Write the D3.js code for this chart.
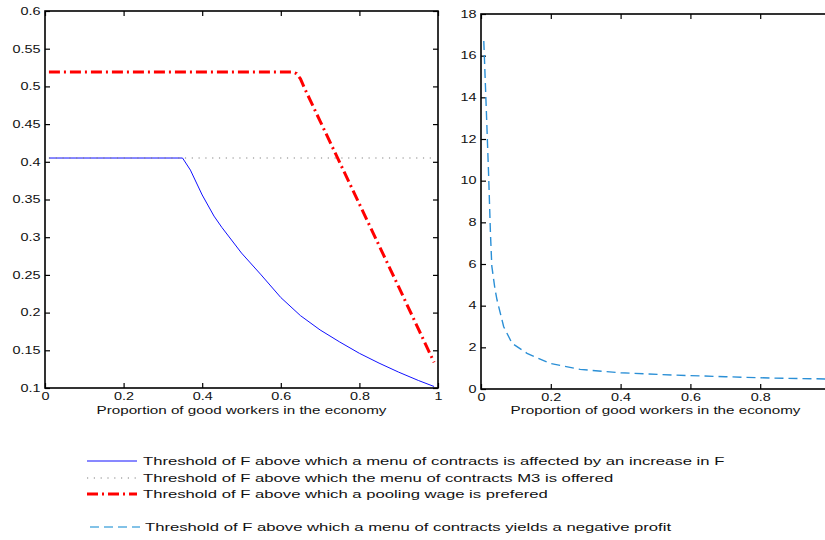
<!DOCTYPE html>
<html>
<head>
<meta charset="utf-8">
<script src="https://cdn.jsdelivr.net/npm/d3@7"></script>
<style>
  html, body { margin: 0; padding: 0; background: #fff; }
  svg { display: block; }
  text { font-family: "Liberation Sans", Arial, Helvetica, sans-serif; fill: #111; }
</style>
</head>
<body>
<svg id="chart" width="825" height="540"></svg>
<script>
// ---------------- DATA ----------------
const xTickValues = [0, 0.2, 0.4, 0.6, 0.8, 1];
const xTickLabels = ["0", "0.2", "0.4", "0.6", "0.8", "1"];
const leftYTicks = [0.1, 0.15, 0.2, 0.25, 0.3, 0.35, 0.4, 0.45, 0.5, 0.55, 0.6];
const leftYLabels = ["0.1", "0.15", "0.2", "0.25", "0.3", "0.35", "0.4", "0.45", "0.5", "0.55", "0.6"];
const rightYTicks = [0, 2, 4, 6, 8, 10, 12, 14, 16, 18];
const rightYLabels = ["0", "2", "4", "6", "8", "10", "12", "14", "16", "18"];

// Series 1: menu of contracts affected by an increase in F (blue solid)
const affectedX = [0.01, 0.35, 0.37, 0.40, 0.43, 0.45, 0.50, 0.55, 0.60, 0.65, 0.70, 0.75, 0.80, 0.85, 0.90, 0.95, 0.99];
const affectedY = [0.405, 0.405, 0.389, 0.356, 0.328, 0.313, 0.279, 0.250, 0.220, 0.196, 0.177, 0.161, 0.146, 0.133, 0.121, 0.110, 0.102];

// Series 2: menu of contracts M3 is offered (grey dotted)
const m3X = [0.01, 0.99];
const m3Y = [0.405, 0.405];

// Series 3: pooling wage preferred (red dash-dot)
const poolingX = [0.01, 0.63, 0.64, 0.65, 0.66, 0.70, 0.80, 0.90, 0.99];
const poolingY = [0.519, 0.519, 0.517, 0.510, 0.498, 0.454, 0.344, 0.234, 0.134];

// Series 4: menu of contracts yields a negative profit (light blue dashed)
const negProfitX = [0.008, 0.015, 0.022, 0.027, 0.031, 0.040, 0.046, 0.065, 0.089, 0.132, 0.198, 0.284, 0.40, 0.55, 0.70, 0.84, 1.0];
const negProfitY = [16.7, 13.5, 10.2, 7.5, 5.9, 4.8, 4.27, 2.99, 2.19, 1.71, 1.23, 0.94, 0.78, 0.67, 0.59, 0.52, 0.48];

const xAxisTitle = "Proportion of good workers in the economy";
const legendLabels = [
  "Threshold of F above which a menu of contracts is affected by an increase in F",
  "Threshold of F above which the menu of contracts M3 is offered",
  "Threshold of F above which a pooling wage is prefered",
  "Threshold of F above which a menu of contracts yields a negative profit"
];

// ---------------- LAYOUT ----------------
const SX_TICK = 1.4;     // horizontal stretch of the original bitmap text
const SX_TEXT = 1.45;
const TICK_FS = 10.3;
const svg = d3.select("#chart");

const L = { x0: 45, x1: 438, y0: 11, y1: 388 };
const R = { x0: 481, x1: 830, y0: 14, y1: 389 };

const xL = d3.scaleLinear().domain([0, 1]).range([L.x0, L.x1]);
const yL = d3.scaleLinear().domain([0.1, 0.6]).range([L.y1, L.y0]);
const xR = d3.scaleLinear().domain([0, 1]).range([R.x0, R.x1]);
const yR = d3.scaleLinear().domain([0, 18]).range([R.y1, R.y0]);

function styleAxis(g) {
  g.select(".domain").remove();
  g.selectAll(".tick line").attr("stroke", "#000").attr("stroke-width", 1.2);
  g.selectAll(".tick text")
    .attr("font-size", TICK_FS)
    .attr("fill", "#111")
    .style("font-family", '"Liberation Sans", Arial, sans-serif')
    .each(function () {
      const t = d3.select(this);
      const x = +t.attr("x") || 0;
      t.attr("x", x / SX_TICK).attr("transform", `scale(${SX_TICK},1)`);
    });
}

function panel(P, xs, ys, yTicks, yLabels, showLastX) {
  const g = svg.append("g");
  // bottom
  g.append("g").attr("transform", `translate(0,${P.y1})`)
    .call(d3.axisBottom(xs).tickValues(xTickValues)
      .tickFormat((d, i) => (showLastX || i < xTickValues.length - 1) ? xTickLabels[i] : "")
      .tickSize(-5).tickPadding(5))
    .call(styleAxis);
  // top
  g.append("g").attr("transform", `translate(0,${P.y0})`)
    .call(d3.axisTop(xs).tickValues(xTickValues).tickFormat("").tickSize(-5))
    .call(styleAxis);
  // left
  g.append("g").attr("transform", `translate(${P.x0},0)`)
    .call(d3.axisLeft(ys).tickValues(yTicks).tickFormat((d, i) => yLabels[i])
      .tickSize(-5).tickPadding(4.5))
    .call(styleAxis);
  // right
  g.append("g").attr("transform", `translate(${P.x1},0)`)
    .call(d3.axisRight(ys).tickValues(yTicks).tickFormat("").tickSize(-5))
    .call(styleAxis);
  // box
  g.append("rect")
    .attr("x", P.x0).attr("y", P.y0)
    .attr("width", P.x1 - P.x0).attr("height", P.y1 - P.y0)
    .attr("fill", "none").attr("stroke", "#000").attr("stroke-width", 1.6);
  // x title
  const cx = (P.x0 + P.x1) / 2;
  g.append("text")
    .attr("x", cx / SX_TEXT).attr("y", 414)
    .attr("transform", `scale(${SX_TEXT},1)`)
    .attr("text-anchor", "middle")
    .attr("font-size", 10.5)
    .text(xAxisTitle);
  return g;
}

const gL = panel(L, xL, yL, leftYTicks, leftYLabels, true);
const gR = panel({ ...R, cxOverride: null }, xR, yR, rightYTicks, rightYLabels, false);

// ---------------- SERIES ----------------
function zip(xs, ys) { return xs.map((x, i) => [x, ys[i]]); }

const lineL = d3.line().x(d => xL(d[0])).y(d => yL(d[1]));
const lineR = d3.line().x(d => xR(d[0])).y(d => yR(d[1]));

const S = {
  affected: { color: "#1010ff", width: 1, dash: null },
  m3: { color: "#808080", width: 1.1, dash: "1.2,5.6" },
  pooling: { color: "#ff0000", width: 3, dash: "11,4,2,4" },
  neg: { color: "#2a8fd6", width: 1.4, dash: "9,5" }
};

gL.append("path").datum(zip(affectedX, affectedY))
  .attr("d", lineL).attr("fill", "none")
  .attr("stroke", S.affected.color).attr("stroke-width", S.affected.width);

gL.append("path").datum(zip(m3X, m3Y))
  .attr("d", lineL).attr("fill", "none")
  .attr("stroke", S.m3.color).attr("stroke-width", S.m3.width)
  .attr("stroke-dasharray", S.m3.dash);

gL.append("path").datum(zip(poolingX, poolingY))
  .attr("d", lineL).attr("fill", "none")
  .attr("stroke", S.pooling.color).attr("stroke-width", S.pooling.width)
  .attr("stroke-dasharray", S.pooling.dash);

gR.append("path").datum(zip(negProfitX, negProfitY))
  .attr("d", lineR).attr("fill", "none")
  .attr("stroke", S.neg.color).attr("stroke-width", S.neg.width)
  .attr("stroke-dasharray", S.neg.dash);

// ---------------- LEGEND ----------------
const legendRows = [
  { s: S.affected, y: 461, tx: 143, lx0: 87, lx1: 137 },
  { s: S.m3, y: 478, tx: 143, lx0: 87, lx1: 137 },
  { s: S.pooling, y: 494, tx: 143, lx0: 87, lx1: 137 },
  { s: S.neg, y: 527, tx: 145, lx0: 90, lx1: 140 }
];
const lg = svg.append("g");
legendRows.forEach((r, i) => {
  lg.append("line")
    .attr("x1", r.lx0).attr("x2", r.lx1).attr("y1", r.y).attr("y2", r.y)
    .attr("stroke", i === 3 ? "#5aaee0" : r.s.color)
    .attr("stroke-width", r.s.width)
    .attr("stroke-dasharray", r.s.dash);
  lg.append("text")
    .attr("x", r.tx / SX_TEXT).attr("y", r.y + 4)
    .attr("transform", `scale(${SX_TEXT},1)`)
    .attr("font-size", 11.5)
    .text(legendLabels[i]);
});
</script>
</body>
</html>
